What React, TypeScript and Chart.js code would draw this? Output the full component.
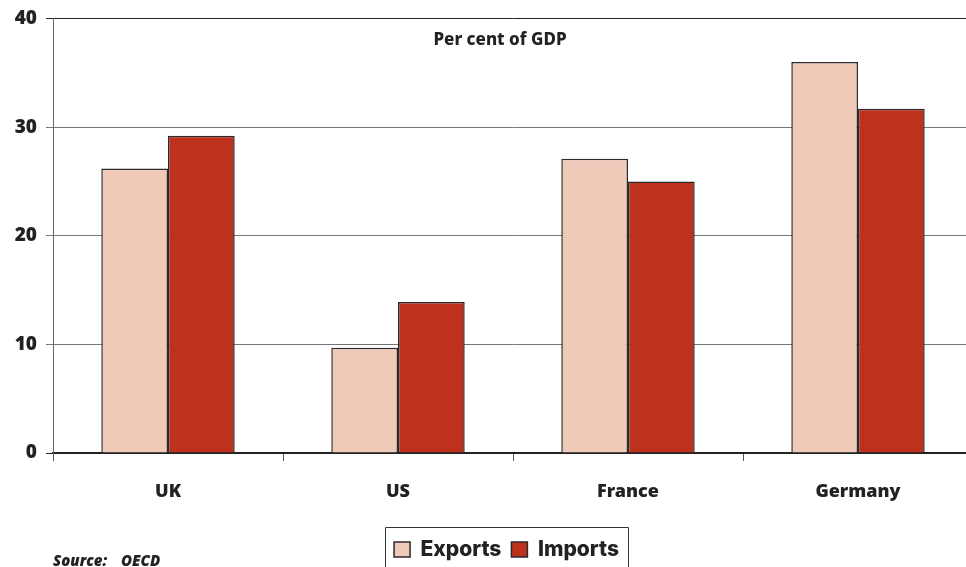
import React, { useEffect, useRef } from "react";
import { Chart, registerables } from "chart.js";

Chart.register(...registerables);

const categories = ["UK", "US", "France", "Germany"];
const exportsValues = [26.2, 9.7, 27.1, 36.0];
const importsValues = [29.2, 13.9, 25.0, 31.7];
const yTicks = [0, 10, 20, 30, 40];
const chartTitle = "Per cent of GDP";
const sourceLabel = "Source:";
const sourceName = "OECD";

const overlayPlugin = {
  id: "overlay",
  afterLayout(chart: any) {
    const lg = chart.legend;
    if (lg) {
      lg.left += 20;
      lg.right += 20;
      lg.top += 3;
      lg.bottom += 3;
    }
  },
  afterDraw(chart: any) {
    const ctx = chart.ctx;
    ctx.save();
    ctx.fillStyle = "#222";
    ctx.font = `800 17px 'Noto Sans'`;
    ctx.textAlign = "center";
    ctx.textBaseline = "alphabetic";
    ctx.fillText(chartTitle, 500, 45);
    ctx.font = `italic 800 15px 'Open Sans'`;
    ctx.textAlign = "left";
    ctx.fillText(sourceLabel, 53, 566);
    ctx.fillText(sourceName, 121, 566);
    const lg = chart.legend;
    if (lg && lg.legendHitBoxes && lg.legendHitBoxes.length) {
      const boxes = lg.legendHitBoxes;
      const first = boxes[0];
      const last = boxes[boxes.length - 1];
      const left = Math.round(first.left - 9);
      const right = Math.round(last.left + last.width + 9);
      const center = first.top + first.height / 2;
      const top = Math.round(center - 23);
      ctx.strokeStyle = "#333";
      ctx.lineWidth = 1;
      ctx.beginPath();
      ctx.moveTo(left + 0.5, chart.height + 2);
      ctx.lineTo(left + 0.5, top + 0.5);
      ctx.lineTo(right + 0.5, top + 0.5);
      ctx.lineTo(right + 0.5, chart.height + 2);
      ctx.stroke();
    }
    ctx.restore();
  },
};

export default function App() {
  const ref = useRef<HTMLCanvasElement>(null);
  useEffect(() => {
    if (!ref.current) return;
    const chart = new Chart(ref.current, {
      type: "bar",
      data: {
        labels: categories,
        datasets: [
          {
            label: "Exports",
            data: exportsValues,
            backgroundColor: "#F0CAB8",
            borderColor: "#2a2a2a",
            borderWidth: 1.5,
            categoryPercentage: 0.58,
            barPercentage: 1,
          },
          {
            label: "Imports",
            data: importsValues,
            backgroundColor: "#BE311D",
            borderColor: "#2a2a2a",
            borderWidth: 1.5,
            categoryPercentage: 0.58,
            barPercentage: 1,
          },
        ],
      },
      options: {
        responsive: false,
        animation: false,
        layout: { padding: { top: 0, right: 0, left: 0, bottom: 0 } },
        plugins: {
          title: { display: false },
          tooltip: { enabled: false },
          legend: {
            position: "bottom",
            labels: {
              font: { family: "Inter", size: 21, weight: "800" },
              color: "#222",
              boxWidth: 16,
              boxHeight: 15,
              padding: 10,
            },
          },
        },
        scales: {
          x: {
            offset: true,
            grid: {
              offset: true,
              drawOnChartArea: false,
              drawTicks: true,
              tickLength: 8,
              color: "#555",
            },
            border: { display: true, color: "#222", width: 1.5 },
            ticks: {
              font: { family: "'Noto Sans'", size: 18, weight: "900" },
              color: "#222",
              padding: 20,
            },
            afterFit: (s: any) => {
              s.height = 73;
            },
          },
          y: {
            min: 0,
            max: 40,
            afterBuildTicks: (s: any) => {
              s.ticks = yTicks.map((v) => ({ value: v }));
            },
            grid: {
              color: (c: any) => (c.tick && (c.tick.value === 40 || c.tick.value === 0) ? "#222" : "#777"),
              lineWidth: 1,
              tickLength: 7,
            },
            border: { display: true, color: "#666", width: 1 },
            ticks: {
              font: { family: "'Open Sans'", size: 19, weight: "800", lineHeight: 1 },
              color: "#222",
              padding: 9,
            },
            afterFit: (s: any) => {
              s.width = 53;
            },
          },
        },
      },
      plugins: [overlayPlugin],
    });
    return () => chart.destroy();
  }, []);
  return (
    <div style={{ position: "absolute", left: 0, top: 0, width: 966, height: 567, overflow: "hidden", background: "#fff" }}>
      <canvas ref={ref} width={973} height={567} />
    </div>
  );
}
